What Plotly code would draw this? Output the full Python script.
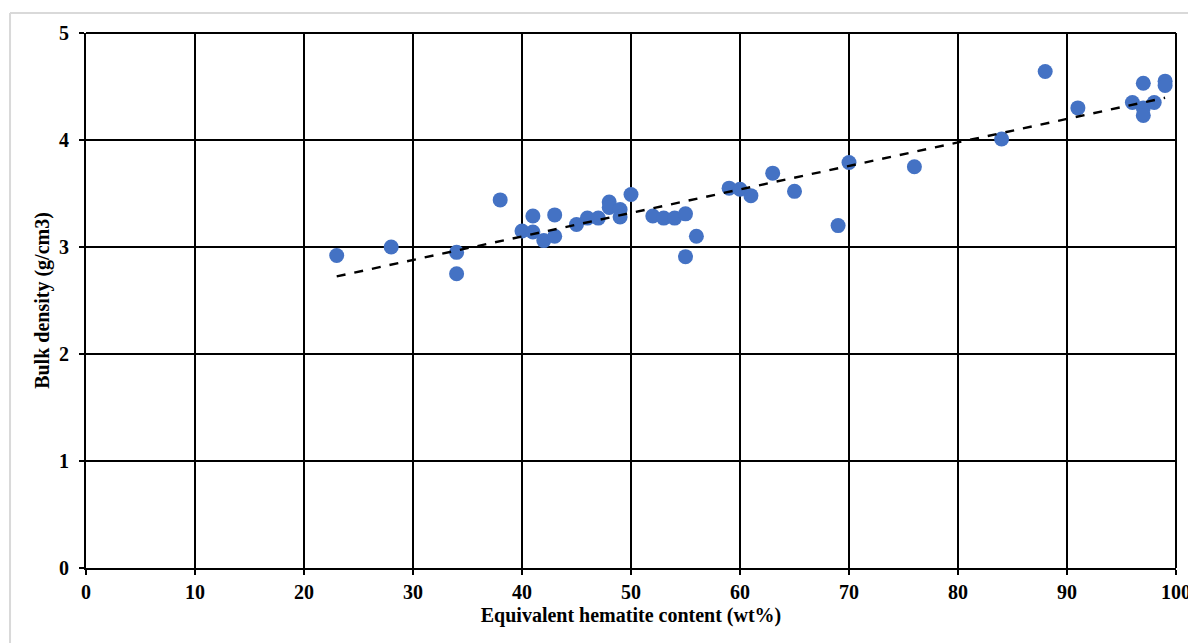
import numpy as np
import plotly.graph_objects as go

hematite = [23, 28, 34, 34, 38, 40, 41, 41, 42, 43, 43, 45, 46, 47, 48, 48, 49, 49, 50,
            52, 53, 54, 55, 55, 56, 59, 60, 61, 63, 65, 69, 70, 76, 84, 88, 91,
            96, 97, 97, 97, 98, 99, 99]
density = [2.92, 3.00, 2.95, 2.75, 3.44, 3.15, 3.29, 3.14, 3.06, 3.10, 3.30, 3.21, 3.27, 3.27,
           3.42, 3.37, 3.35, 3.28, 3.49, 3.29, 3.27, 3.27, 3.31, 2.91, 3.10, 3.55, 3.54, 3.48,
           3.69, 3.52, 3.20, 3.79, 3.75, 4.01, 4.64, 4.30, 4.35, 4.53, 4.30, 4.23, 4.35,
           4.55, 4.51]

x_ticks = [0, 10, 20, 30, 40, 50, 60, 70, 80, 90, 100]
y_ticks = [0, 1, 2, 3, 4, 5]

slope, intercept = np.polyfit(hematite, density, 1)
trend_x = [min(hematite), max(hematite)]
trend_y = [slope * v + intercept for v in trend_x]

family = "Liberation Serif, Times New Roman, serif"
font = dict(family=family, size=20, color="black")

fig = go.Figure()
fig.add_trace(go.Scatter(x=hematite, y=density, mode="markers",
                         marker=dict(size=15, color="#4472C4"), showlegend=False))
fig.add_trace(go.Scatter(x=trend_x, y=trend_y, mode="lines",
                         line=dict(color="black", width=2.4, dash="dash"), showlegend=False))

axis_common = dict(showline=True, linecolor="black", linewidth=2, mirror=False,
                   showgrid=True, gridcolor="black", gridwidth=1.5,
                   ticks="outside", ticklen=5, tickwidth=2, tickcolor="black",
                   zeroline=False, tickfont=dict(family=family, size=20, color="black"))

fig.update_xaxes(range=[0, 100], tickvals=x_ticks, ticktext=[f"<b>{v}</b>" for v in x_ticks],
                 **axis_common,
                 title=dict(text="<b>Equivalent hematite content (wt%)</b>", font=font, standoff=6))
fig.update_yaxes(range=[0, 5], tickvals=y_ticks, ticktext=[f"<b>{v}</b>" for v in y_ticks],
                 ticklabelstandoff=6, **axis_common,
                 title=dict(text="<b>Bulk density (g/cm3)</b>", font=font, standoff=4))

# right and top plot borders
fig.add_shape(type="line", xref="paper", yref="paper", x0=1, x1=1, y0=0, y1=1,
              line=dict(color="black", width=2))
fig.add_shape(type="line", xref="paper", yref="paper", x0=0, x1=1, y0=1, y1=1,
              line=dict(color="black", width=2))
# chart area border (top and left)
fig.add_shape(type="line", xref="paper", yref="paper", x0=-0.0697, x1=1.1, y0=1.0374, y1=1.0374,
              line=dict(color="#d9d9d9", width=2))
fig.add_shape(type="line", xref="paper", yref="paper", x0=-0.0697, x1=-0.0697, y0=-0.2, y1=1.0374,
              line=dict(color="#d9d9d9", width=2))

fig.update_layout(width=1188, height=635, plot_bgcolor="white", paper_bgcolor="white",
                  margin=dict(l=78, r=20, t=25, b=75, autoexpand=False), font=font)

fig.write_html("out.html")
